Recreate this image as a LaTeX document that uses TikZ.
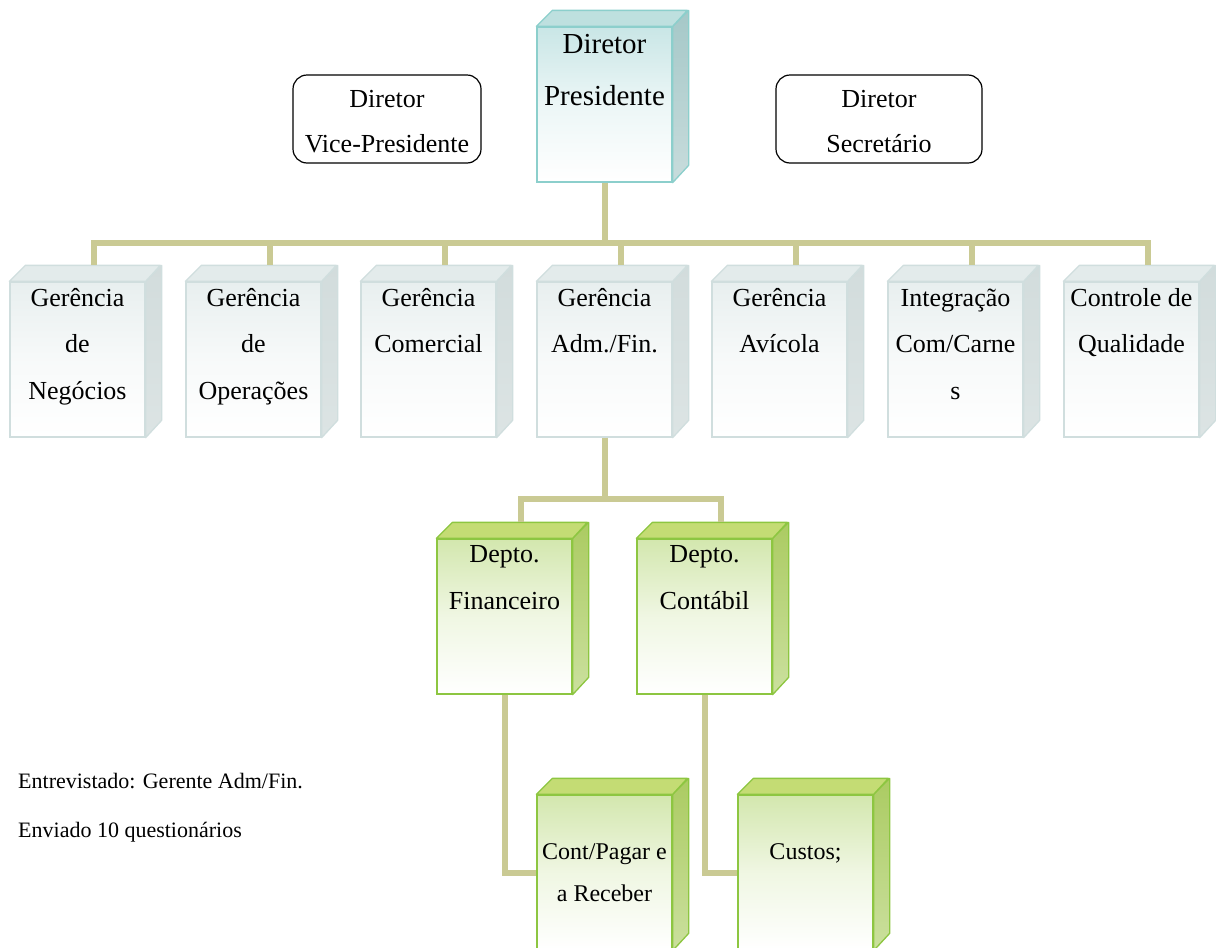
\documentclass[tikz,border=0pt]{standalone}
\usepackage{fontspec}
\setmainfont{Liberation Serif}
\usetikzlibrary{calc}

% palettes: L = outline, F = front top tint, T = top face, S/B = side top/bottom
\definecolor{khaki}{HTML}{CACA94}
\definecolor{tealL}{HTML}{8CCFCC}
\definecolor{tealF}{HTML}{C9E6E6}
\definecolor{tealT}{HTML}{BEE0DF}
\definecolor{tealS}{HTML}{A5C8C8}
\definecolor{tealB}{HTML}{C8DCDC}
\definecolor{grayL}{HTML}{D0DEDE}
\definecolor{grayF}{HTML}{E8EFEF}
\definecolor{grayT}{HTML}{E3EBEB}
\definecolor{grayS}{HTML}{D2DCDC}
\definecolor{grayB}{HTML}{DCE4E4}
\definecolor{greenL}{HTML}{8DC641}
\definecolor{greenF}{HTML}{D3E7AE}
\definecolor{greenT}{HTML}{C4DC74}
\definecolor{greenS}{HTML}{ABCB62}
\definecolor{greenB}{HTML}{CBE09E}

\tikzset{
  conn/.style={draw=khaki, line width=6pt},
  front/.style={shape=rectangle, draw=#1L, line width=1.3pt,
    top color=#1F, bottom color=white, middle color=#1F!35!white,
    minimum width=135pt, minimum height=155pt, inner sep=0pt},
  sideface/.style={draw=#1L, line width=1.3pt, line join=round,
    top color=#1S, bottom color=#1B},
  topface/.style={draw=#1L, line width=1.3pt, line join=round, fill=#1T},
  lbl/.style={anchor=base, inner sep=0pt},
  rbox/.style={draw=black, line width=1.2pt, rounded corners=14pt,
    minimum height=88pt, inner sep=0pt},
}

% a box drawn as a cube: name, left edge, top edge, palette
\newcommand\cubebox[4]{%
  \node[front=#4] (#1) at (#2+67.5,#3+77.5) {};
  \path[sideface=#4] (#1.north east) -- ++(16,-16) -- ++(0,155) -- (#1.south east) -- cycle;
  \path[topface=#4] (#1.north west) -- ++(16,-16) -- ++(135,0) -- (#1.north east) -- cycle;
}
% centred lines of text: size, line distance, text
\newcommand\stack[3]{\parbox[t]{170pt}{\centering\fontsize{#1}{#2}\selectfont #3}}

\begin{document}
\begin{tikzpicture}[x=1pt,y=-1pt]
\useasboundingbox (0,0) rectangle (1216,948);
\clip (0,0) rectangle (1216,948);

% board
\cubebox{pres}{537}{27}{teal}
\node[lbl] (pres-t) at ($(pres.north)+(0,27)$) {\stack{29}{52}{Diretor\\Presidente}};

\node[rbox, minimum width=188pt] (vp) at (387,119) {};
\node[lbl] (vp-t) at (387,107) {\stack{26}{45}{Diretor\\Vice-Presidente}};
\node[rbox, minimum width=206pt] (sec) at (879,119) {};
\node[lbl] (sec-t) at (879,107) {\stack{26}{45}{Diretor\\Secretário}};

% managements
\cubebox{g1}{10}{282}{gray}
\cubebox{g2}{186}{282}{gray}
\cubebox{g3}{361}{282}{gray}
\cubebox{g4}{537}{282}{gray}
\cubebox{g5}{712}{282}{gray}
\cubebox{g6}{888}{282}{gray}
\cubebox{g7}{1064}{282}{gray}
\node[lbl] (g1-t) at ($(g1.north)+(0,25)$) {\stack{26}{46.5}{Gerência\\de\\Negócios}};
\node[lbl] (g2-t) at ($(g2.north)+(0,25)$) {\stack{26}{46.5}{Gerência\\de\\Operações}};
\node[lbl] (g3-t) at ($(g3.north)+(0,25)$) {\stack{26}{46.5}{Gerência\\Comercial}};
\node[lbl] (g4-t) at ($(g4.north)+(0,25)$) {\stack{26}{46.5}{Gerência\\Adm./Fin.}};
\node[lbl] (g5-t) at ($(g5.north)+(0,25)$) {\stack{26}{46.5}{Gerência\\Avícola}};
\node[lbl] (g6-t) at ($(g6.north)+(0,25)$) {\stack{26}{46.5}{Integração\\Com/Carne\\s}};
\node[lbl] (g7-t) at ($(g7.north)+(0,25)$) {\stack{26}{46.5}{Controle de\\Qualidade}};

% departments
\cubebox{fin}{437}{539}{green}
\cubebox{cont}{637}{539}{green}
\node[lbl] (fin-t) at ($(fin.north)+(0,24)$) {\stack{26}{47}{Depto.\\Financeiro}};
\node[lbl] (cont-t) at ($(cont.north)+(0,24)$) {\stack{26}{47}{Depto.\\Contábil}};

\cubebox{cp}{537}{795}{green}
\cubebox{cus}{738}{795}{green}
\node[lbl] (cp-t) at ($(cp.north)+(0,65)$) {\stack{24}{42}{Cont/Pagar e\\a Receber}};
\node[lbl] (cus-t) at ($(cus.north)+(0,65)$) {\stack{24}{42}{Custos;}};

% connectors
\draw[conn] (pres.south) -- ++(0,60) coordinate (bus);
\foreach \g in {g1,g2,g3,g4,g5,g6,g7}
  \draw[conn] (bus) -| ($(\g.north)+(16,-16)$);
\draw[conn] (g4.south) -- ++(0,61) coordinate (sub);
\draw[conn] (sub) -| ($(fin.north)+(16,-16)$);
\draw[conn] (sub) -| ($(cont.north)+(16,-16)$);
\draw[conn] (fin.south) |- (cp.west);
\draw[conn] (cont.south) |- (cus.west);

% note
\node[anchor=base west, inner sep=0pt] (note) at (18,788)
  {\parbox[t]{320pt}{\fontsize{22}{49}\selectfont Entrevistado: Gerente Adm/Fin.\\Enviado 10 questionários}};
\end{tikzpicture}
\end{document}
